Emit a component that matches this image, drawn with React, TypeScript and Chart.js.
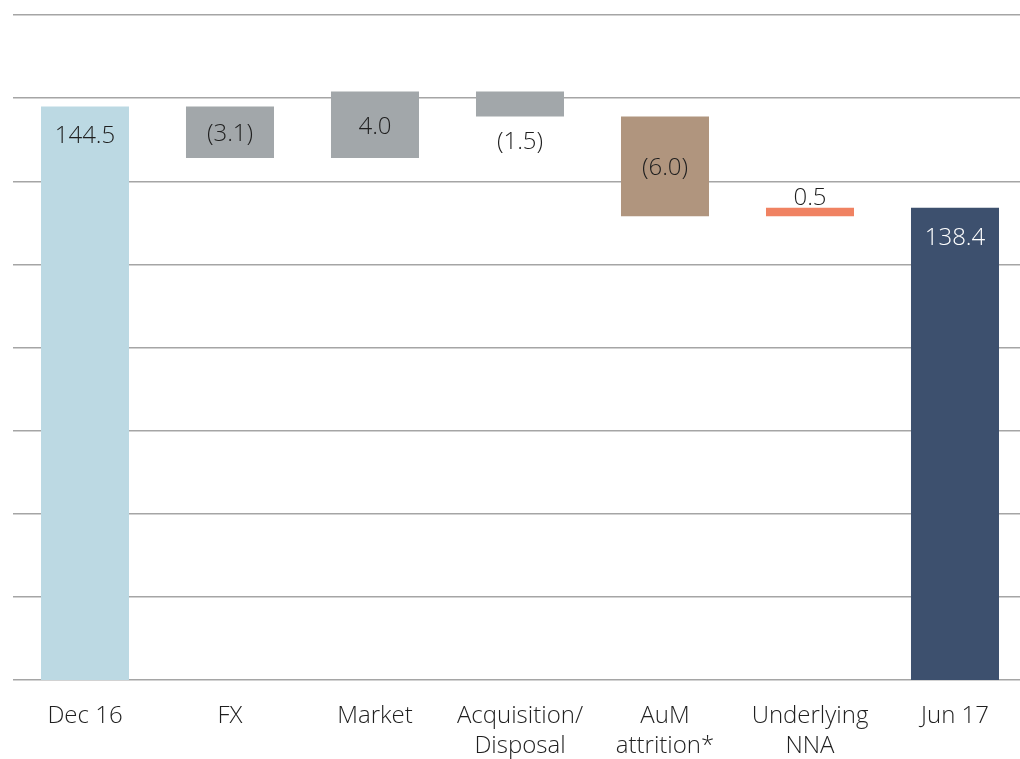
import { useEffect, useRef } from "react";
import { Chart, registerables } from "chart.js";

Chart.register(...registerables);

const categories: string[][] = [
  ["Dec 16"],
  ["FX"],
  ["Market"],
  ["Acquisition/", "Disposal"],
  ["AuM", "attrition*"],
  ["Underlying", "NNA"],
  ["Jun 17"],
];
const values = [144.5, -3.1, 4.0, -1.5, -6.0, 0.5, 138.4];
const isTotal = [true, false, false, false, false, false, true];
const valueLabels = ["144.5", "(3.1)", "4.0", "(1.5)", "(6.0)", "0.5", "138.4"];
const barColors = ["#BCD9E3", "#A2A7AA", "#A2A7AA", "#A2A7AA", "#B0957E", "#F08262", "#3D506E"];
const labelPlacement = ["top", "center", "center", "below", "center", "above", "top"];
const labelColors = ["#1f1f1f", "#1f1f1f", "#1f1f1f", "#1f1f1f", "#1f1f1f", "#1f1f1f", "#ffffff"];
const yMin = 110;
const yMax = 150;
const yStep = 5;

const FONT = "'Open Sans', 'DejaVu Sans', sans-serif";

function buildRanges(): [number, number][] {
  const out: [number, number][] = [];
  let running = 0;
  values.forEach((v, i) => {
    if (isTotal[i]) {
      running = v;
      out.push([yMin, v]);
    } else {
      const start = running;
      running = running + v;
      out.push([Math.min(start, running), Math.max(start, running)]);
    }
  });
  return out;
}

const labelPlugin = {
  id: "valueLabels",
  afterDatasetsDraw(chart: any) {
    const ctx = chart.ctx;
    const meta = chart.getDatasetMeta(0);
    ctx.save();
    ctx.font = `300 24px ${FONT}`;
    ctx.textAlign = "center";
    ctx.textBaseline = "middle";
    meta.data.forEach((el: any, i: number) => {
      const top = Math.min(el.y, el.base);
      const bottom = Math.max(el.y, el.base);
      let y = (top + bottom) / 2 + 2;
      const p = labelPlacement[i];
      if (p === "top") y = top + 30;
      else if (p === "below") y = bottom + 26;
      else if (p === "above") y = top - 10;
      ctx.fillStyle = labelColors[i];
      ctx.fillText(valueLabels[i], el.x, y);
    });
    ctx.restore();
  },
};

export default function App() {
  const ref = useRef<HTMLCanvasElement | null>(null);
  useEffect(() => {
    if (!ref.current) return;
    const chart = new Chart(ref.current, {
      type: "bar",
      data: {
        labels: categories,
        datasets: [
          {
            data: buildRanges() as any,
            backgroundColor: barColors,
            borderWidth: 0,
            categoryPercentage: 1,
            barPercentage: 0.607,
          },
        ],
      },
      options: {
        responsive: false,
        animation: false,
        devicePixelRatio: 1,
        layout: { padding: { left: 12.5, right: 12.5, top: 15, bottom: 0 } },
        plugins: { legend: { display: false }, tooltip: { enabled: false } },
        scales: {
          x: {
            grid: { display: false, drawTicks: false },
            border: { display: false },
            ticks: {
              padding: 21,
              autoSkip: false,
              maxRotation: 0,
              color: "#1f1f1f",
              font: { family: FONT, size: 24, weight: "300" as any, lineHeight: 1.25 },
            },
          },
          y: {
            min: yMin,
            max: yMax,
            ticks: { stepSize: yStep, display: false },
            grid: { color: "#a5a5a5", lineWidth: 1.5, drawTicks: false },
            border: { display: false },
          },
        },
      },
      plugins: [labelPlugin],
    });
    return () => chart.destroy();
  }, []);
  return (
    <div style={{ position: "fixed", left: 0, top: 0, width: 1020, height: 759, overflow: "hidden", background: "#fff" }}>
      <canvas ref={ref} width={1040} height={782} style={{ width: 1040, height: 782, display: "block" }} />
    </div>
  );
}
